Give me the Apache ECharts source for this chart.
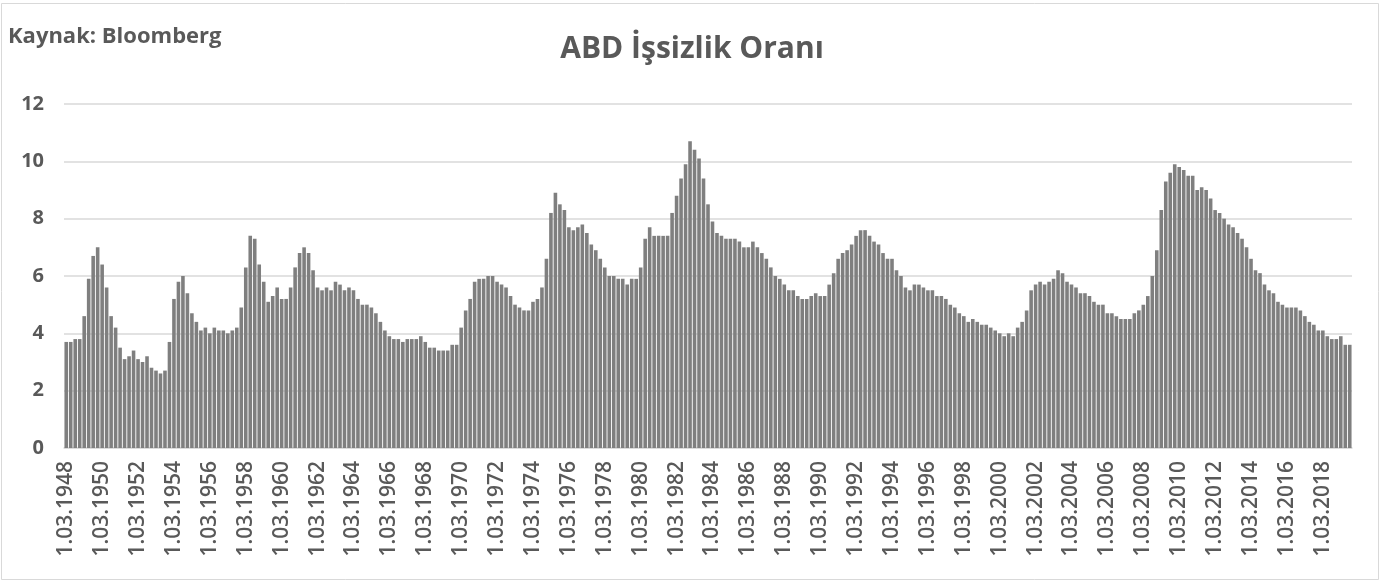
<!DOCTYPE html>
<html lang="tr">
<head>
    <meta charset="utf-8">
    <script src="https://cdn.jsdelivr.net/npm/echarts@6/dist/echarts.min.js"></script>
    <style>
        html, body { margin: 0; padding: 0; background: #fff; }
        #main { width: 1384px; height: 581px; }
    </style>
</head>
<body>
<div id="main"></div>
<script type="text/javascript">
    // ceyreklik issizlik orani, 1948 Q1 - 2019 Q3
    var rates1948to1969 = [
        3.7, 3.7, 3.8, 3.8,  4.6, 5.9, 6.7, 7.0,  6.4, 5.6, 4.6, 4.2,  3.5, 3.1, 3.2, 3.4,
        3.1, 3.0, 3.2, 2.8,  2.7, 2.6, 2.7, 3.7,  5.2, 5.8, 6.0, 5.4,  4.7, 4.4, 4.1, 4.2,
        4.0, 4.2, 4.1, 4.1,  4.0, 4.1, 4.2, 4.9,  6.3, 7.4, 7.3, 6.4,  5.8, 5.1, 5.3, 5.6,
        5.2, 5.2, 5.6, 6.3,  6.8, 7.0, 6.8, 6.2,  5.6, 5.5, 5.6, 5.5,  5.8, 5.7, 5.5, 5.6,
        5.5, 5.2, 5.0, 5.0,  4.9, 4.7, 4.4, 4.1,  3.9, 3.8, 3.8, 3.7,  3.8, 3.8, 3.8, 3.9,
        3.7, 3.5, 3.5, 3.4,  3.4, 3.4, 3.6, 3.6
    ];
    var rates1970to1993 = [
        4.2, 4.8, 5.2, 5.8,  5.9, 5.9, 6.0, 6.0,  5.8, 5.7, 5.6, 5.3,  5.0, 4.9, 4.8, 4.8,
        5.1, 5.2, 5.6, 6.6,  8.2, 8.9, 8.5, 8.3,  7.7, 7.6, 7.7, 7.8,  7.5, 7.1, 6.9, 6.6,
        6.3, 6.0, 6.0, 5.9,  5.9, 5.7, 5.9, 5.9,  6.3, 7.3, 7.7, 7.4,  7.4, 7.4, 7.4, 8.2,
        8.8, 9.4, 9.9, 10.7, 10.4, 10.1, 9.4, 8.5, 7.9, 7.5, 7.4, 7.3,  7.3, 7.3, 7.2, 7.0,
        7.0, 7.2, 7.0, 6.8,  6.6, 6.3, 6.0, 5.9,  5.7, 5.5, 5.5, 5.3,  5.2, 5.2, 5.3, 5.4,
        5.3, 5.3, 5.7, 6.1,  6.6, 6.8, 6.9, 7.1,  7.4, 7.6, 7.6, 7.4,  7.2, 7.1, 6.8, 6.6
    ];
    var rates1994to2019 = [
        6.6, 6.2, 6.0, 5.6,  5.5, 5.7, 5.7, 5.6,  5.5, 5.5, 5.3, 5.3,  5.2, 5.0, 4.9, 4.7,
        4.6, 4.4, 4.5, 4.4,  4.3, 4.3, 4.2, 4.1,  4.0, 3.9, 4.0, 3.9,  4.2, 4.4, 4.8, 5.5,
        5.7, 5.8, 5.7, 5.8,  5.9, 6.2, 6.1, 5.8,  5.7, 5.6, 5.4, 5.4,  5.3, 5.1, 5.0, 5.0,
        4.7, 4.7, 4.6, 4.5,  4.5, 4.5, 4.7, 4.8,  5.0, 5.3, 6.0, 6.9,  8.3, 9.3, 9.6, 9.9,
        9.8, 9.7, 9.5, 9.5,  9.0, 9.1, 9.0, 8.7,  8.3, 8.2, 8.0, 7.8,  7.7, 7.5, 7.3, 7.0,
        6.6, 6.2, 6.1, 5.7,  5.5, 5.4, 5.1, 5.0,  4.9, 4.9, 4.9, 4.8,  4.6, 4.4, 4.3, 4.1,
        4.1, 3.9, 3.8, 3.8,  3.9, 3.6, 3.6
    ];
    var rates = rates1948to1969.concat(rates1970to1993, rates1994to2019);

    var startYear = 1948;
    var quarterMonths = ['03', '06', '09', '12'];
    var categories = [];
    for (var i = 0; i < rates.length; i++) {
        categories.push('1.' + quarterMonths[i % 4] + '.' + (startYear + Math.floor(i / 4)));
    }

    var textColor = '#595959';
    var lineColor = '#d9d9d9';
    var font = 'Open Sans';

    var myChart = echarts.init(document.getElementById('main'));
    myChart.setOption({
        animation: false,
        backgroundColor: '#fff',
        title: [{
            text: 'ABD İşsizlik Oranı',
            left: 'center',
            top: 34,
            padding: 0,
            textStyle: { fontFamily: font, fontSize: 30, fontWeight: 'bold', color: textColor }
        }, {
            text: 'Kaynak: Bloomberg',
            left: 8,
            top: 26,
            padding: 0,
            textStyle: { fontFamily: font, fontSize: 22, fontWeight: 'bold', color: textColor }
        }],
        graphic: [{
            type: 'rect',
            shape: { x: 1.5, y: 3.5, width: 1377, height: 576 },
            style: { fill: null, stroke: lineColor, lineWidth: 1 },
            silent: true
        }],
        grid: { left: 64, right: 32, top: 104, bottom: 133 },
        xAxis: {
            type: 'category',
            data: categories,
            boundaryGap: true,
            axisLine: { lineStyle: { color: lineColor, width: 1.5 } },
            axisTick: { interval: 7, length: 5, lineStyle: { color: lineColor, width: 1.5 } },
            axisLabel: {
                interval: 7,
                rotate: 90,
                margin: 13,
                fontFamily: font,
                fontSize: 21,
                fontWeight: 600,
                color: textColor
            }
        },
        yAxis: {
            type: 'value',
            min: 0,
            max: 12,
            interval: 2,
            axisLine: { show: false },
            axisTick: { show: false },
            splitLine: { lineStyle: { color: lineColor, width: 1.5 } },
            axisLabel: {
                margin: 20,
                fontFamily: font,
                fontSize: 20,
                fontWeight: 'bold',
                color: textColor
            }
        },
        series: [{
            name: 'İşsizlik Oranı',
            type: 'bar',
            data: rates,
            barCategoryGap: '20%',
            itemStyle: { color: '#7f7f7f' }
        }]
    });
</script>
</body>
</html>
